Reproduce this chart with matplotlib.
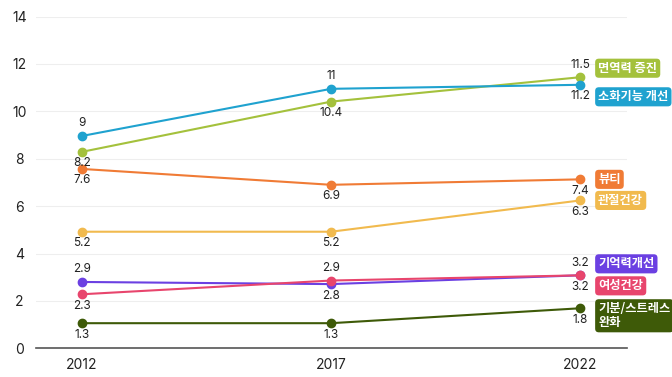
import matplotlib
matplotlib.use("Agg")
import matplotlib.pyplot as plt

plt.rcParams['font.family'] = ['Inter', 'Noto Sans CJK KR', 'DejaVu Sans']

# data (point heights, labels as printed)
years = [2012, 2017, 2022]
names = ['면역력 증진', '소화기능 개선', '뷰티', '관절건강', '기억력개선', '여성건강', '기분/스트레스\n완화']
immunity = [8.29, 10.41, 11.44]
digestion = [8.96, 10.95, 11.12]
beauty = [7.57, 6.90, 7.13]
joint = [4.92, 4.92, 6.24]
memory = [2.80, 2.71, 3.08]
women = [2.28, 2.86, 3.08]
stress = [1.06, 1.06, 1.69]
values = [immunity, digestion, beauty, joint, memory, women, stress]

labels = [
    ['8.2', '10.4', '11.5'],
    ['9', '11', '11.2'],
    ['7.6', '6.9', '7.4'],
    ['5.2', '5.2', '6.3'],
    ['2.9', '2.8', '3.2'],
    ['2.3', '2.9', '3.2'],
    ['1.3', '1.3', '1.8'],
]

# styles
colors = ['#A4C13C', '#1FA2CF', '#F07B35', '#F1BA4E', '#6B40E2', '#E8456D', '#3E5A08']
# +1 label above point, -1 below
label_side = [
    [-1, -1, 1],
    [1, 1, -1],
    [-1, -1, -1],
    [-1, -1, -1],
    [1, -1, 1],
    [-1, 1, -1],
    [-1, -1, -1],
]
tag_dy = [9, -12, 0, 0, 11.5, -10.5, -7.5]  # pixels, tag centre vs last point

fig = plt.figure(figsize=(6.72, 3.77), dpi=100)
ax = fig.add_axes([0.0536, 0.0761, 0.8795, 0.880])

for vals, labs, sides, col, name, dy in zip(values, labels, label_side, colors, names, tag_dy):
    ax.plot(years, vals, color=col, lw=1.5, marker='o', ms=6, zorder=3, clip_on=False)
    for x, v, lab, s in zip(years, vals, labs, sides):
        off = 12.5 if s > 0 else -11.5
        ax.annotate(lab, (x, v), xytext=(0, off), textcoords='offset pixels',
                    ha='center', va='center', fontsize=8.5, color='#222222', zorder=4)
    ax.annotate(name, (years[-1], vals[-1]), xytext=(18, dy), textcoords='offset pixels',
                ha='left', va='center', fontsize=8.8, fontweight='bold', color='white',
                family=['Noto Sans CJK KR', 'DejaVu Sans'], linespacing=1.1,
                bbox=dict(boxstyle='round,pad=0.25,rounding_size=0.3', fc=col, ec='none'),
                annotation_clip=False, zorder=5)

ax.set_xlim(2011.08, 2022.94)
ax.set_ylim(0, 14)
ax.set_xticks(years)
ax.set_yticks(range(0, 15, 2))
ax.tick_params(axis='both', length=0, labelsize=10, colors='#222222')
ax.tick_params(axis='x', pad=7)
ax.tick_params(axis='y', pad=12)
for lab in ax.get_yticklabels():
    lab.set_horizontalalignment('center')
ax.grid(axis='y', color='#eeeeee', lw=0.8)
ax.set_axisbelow(True)
for sp in ['top', 'right', 'left']:
    ax.spines[sp].set_visible(False)
ax.spines['bottom'].set_color('#555555')
ax.spines['bottom'].set_linewidth(1.2)

fig.savefig('out.png', dpi=100)
